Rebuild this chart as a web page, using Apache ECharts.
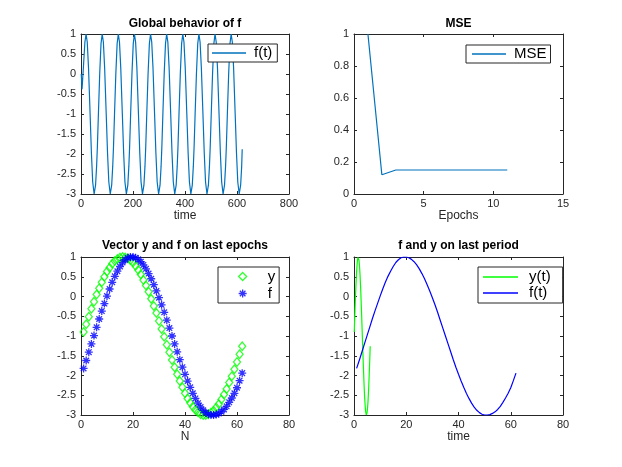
<!DOCTYPE html>
<html>
<head>
<meta charset="utf-8">
<title>f and y</title>
<script src="https://cdn.jsdelivr.net/npm/echarts@6/dist/echarts.min.js"></script>
<style>
  html, body { margin: 0; padding: 0; background: #fff; }
  #chart { width: 622px; height: 467px; }
</style>
</head>
<body>
<div id="chart"></div>
<script>
// f over every epoch (key points)
const globalTime = [
  1, 4, 10, 15, 19.5, 24, 29, 35, 40, 45, 50.5, 56, 60,
  63, 67, 72, 77, 81.5, 86, 91, 97, 102, 107, 112.5, 118, 122,
  125, 129, 134, 139, 143.5, 148, 153, 159, 164, 169, 174.5, 180, 184,
  187, 191, 196, 201, 205.5, 210, 215, 221, 226, 231, 236.5, 242, 246,
  249, 253, 258, 263, 267.5, 272, 277, 283, 288, 293, 298.5, 304, 308,
  311, 315, 320, 325, 329.5, 334, 339, 345, 350, 355, 360.5, 366, 370,
  373, 377, 382, 387, 391.5, 396, 401, 407, 412, 417, 422.5, 428, 432,
  435, 439, 444, 449, 453.5, 458, 463, 469, 474, 479, 484.5, 490, 494,
  497, 501, 506, 511, 515.5, 520, 525, 531, 536, 541, 546.5, 552, 556,
  559, 563, 568, 573, 577.5, 582, 587, 593, 598, 603, 608.5, 614, 618, 620
];
const globalF = [
  0.00, -0.38, 0.25, 0.80, 1.00, 0.80, 0.14, -1.00, -1.97, -2.70, -3.00, -2.78, -2.31,
  -1.82, -0.99, 0.01, 0.76, 1.00, 0.80, 0.14, -1.00, -1.97, -2.70, -3.00, -2.78, -2.31,
  -1.82, -0.99, 0.01, 0.76, 1.00, 0.80, 0.14, -1.00, -1.97, -2.70, -3.00, -2.78, -2.31,
  -1.82, -0.99, 0.01, 0.76, 1.00, 0.80, 0.14, -1.00, -1.97, -2.70, -3.00, -2.78, -2.31,
  -1.82, -0.99, 0.01, 0.76, 1.00, 0.80, 0.14, -1.00, -1.97, -2.70, -3.00, -2.78, -2.31,
  -1.82, -0.99, 0.01, 0.76, 1.00, 0.80, 0.14, -1.00, -1.97, -2.70, -3.00, -2.78, -2.31,
  -1.82, -0.99, 0.01, 0.76, 1.00, 0.80, 0.14, -1.00, -1.97, -2.70, -3.00, -2.78, -2.31,
  -1.82, -0.99, 0.01, 0.76, 1.00, 0.80, 0.14, -1.00, -1.97, -2.70, -3.00, -2.78, -2.31,
  -1.82, -0.99, 0.01, 0.76, 1.00, 0.80, 0.14, -1.00, -1.97, -2.70, -3.00, -2.78, -2.31,
  -1.82, -0.99, 0.01, 0.76, 1.00, 0.80, 0.14, -1.00, -1.97, -2.70, -3.00, -2.78, -2.31, -1.88
];

// MSE per epoch
const mseEpochs = [1, 2, 3, 4, 5, 6, 7, 8, 9, 10, 11];
const mseValues = [1.00, 0.12, 0.15, 0.15, 0.15, 0.15, 0.15, 0.15, 0.15, 0.15, 0.15];

// target y and output f on the last epoch (N = 1..62)
const yLast = [
  -0.90, -0.70, -0.51, -0.31, -0.13, 0.05, 0.21, 0.36, 0.50, 0.63,
  0.73, 0.83, 0.90, 0.95, 0.99, 1.00, 0.99, 0.97, 0.92, 0.86,
  0.77, 0.67, 0.56, 0.42, 0.28, 0.12, -0.06, -0.24, -0.42, -0.62,
  -0.82, -1.02, -1.22, -1.41, -1.61, -1.79, -1.97, -2.14, -2.30, -2.45,
  -2.58, -2.69, -2.79, -2.87, -2.93, -2.98, -3.00, -3.00, -2.98, -2.94,
  -2.89, -2.81, -2.72, -2.61, -2.48, -2.34, -2.18, -2.02, -1.84, -1.66,
  -1.46, -1.26
];
const fLast = [
  -1.82, -1.62, -1.41, -1.20, -0.99, -0.78, -0.57, -0.37, -0.18, 0.01,
  0.19, 0.36, 0.51, 0.64, 0.76, 0.86, 0.93, 0.98, 1.00, 1.00,
  0.98, 0.94, 0.88, 0.80, 0.70, 0.58, 0.45, 0.30, 0.14, -0.03,
  -0.21, -0.40, -0.60, -0.80, -1.00, -1.20, -1.40, -1.60, -1.79, -1.97,
  -2.14, -2.30, -2.45, -2.58, -2.70, -2.80, -2.88, -2.94, -2.98, -3.00,
  -3.00, -2.99, -2.96, -2.92, -2.86, -2.78, -2.68, -2.57, -2.45, -2.31,
  -2.13, -1.94
];

// sample index, and the same samples on the y(t) time scale
const sampleN = fLast.map((_, i) => i + 1);
const sampleT = sampleN.map((n) => n / 10);

const FONT = '"Liberation Sans", Arial, Helvetica, sans-serif';
const AXIS = '#262626';
const BLUE_M = '#0072bd';
const GREEN = '#00ff00';
const BLUE = '#0000ff';
const STAR = 'path://M0,5L10,5M5,0L5,10M1.5,1.5L8.5,8.5M1.5,8.5L8.5,1.5';

const grids = [
  { left: 81, top: 34, width: 208, height: 160 },
  { left: 354, top: 34, width: 209, height: 160 },
  { left: 81, top: 257, width: 208, height: 158 },
  { left: 354, top: 257, width: 209, height: 158 }
];
const titles = ['Global behavior of f', 'MSE', 'Vector y and f on last epochs', 'f and y on last period'];
const xNames = ['time', 'Epochs', 'N', 'time'];
const xRanges = [[0, 800, 200], [0, 15, 5], [0, 80, 20], [0, 80, 20]];
const yRanges = [[-3, 1, 0.5], [0, 1, 0.2], [-3, 1, 0.5], [-3, 1, 0.5]];

function fmt(v) {
  return String(Math.round(v * 100) / 100);
}

// main axis with labels, or a mirror axis giving the box and its inside ticks
function makeAxis(g, range, pos, mirror, name) {
  const ax = {
    type: 'value',
    gridIndex: g,
    position: pos,
    min: range[0],
    max: range[1],
    interval: range[2],
    axisLine: { show: true, onZero: false, lineStyle: { color: AXIS, width: 1 } },
    axisTick: { show: true, inside: true, length: 3, lineStyle: { color: AXIS, width: 1 } },
    splitLine: { show: false },
    axisLabel: {
      show: !mirror,
      color: AXIS,
      fontFamily: FONT,
      fontSize: 11,
      margin: pos === 'left' ? 5 : 4,
      formatter: fmt
    }
  };
  if (name) {
    ax.name = name;
    ax.nameLocation = 'middle';
    ax.nameGap = 16;
    ax.nameTextStyle = { color: AXIS, fontFamily: FONT, fontSize: 12 };
  }
  return ax;
}

const xAxis = [];
const yAxis = [];
grids.forEach((_, g) => {
  xAxis.push(makeAxis(g, xRanges[g], 'bottom', false, xNames[g]));
  xAxis.push(makeAxis(g, xRanges[g], 'top', true));
  yAxis.push(makeAxis(g, yRanges[g], 'left', false));
  yAxis.push(makeAxis(g, yRanges[g], 'right', true));
});

const title = titles.map((text, g) => ({
  text,
  left: grids[g].left + grids[g].width / 2,
  top: g < 2 ? 18 : 240,
  textAlign: 'center',
  padding: 0,
  textStyle: { color: '#000', fontFamily: FONT, fontSize: 12, fontWeight: 'bold' }
}));

const legendLabels = { fGlobal: 'f(t)', mse: 'MSE', yDots: 'y', fDots: 'f', yLine: 'y(t)', fLine: 'f(t)' };
function legendText(lineHeight, left) {
  return { color: '#000', fontFamily: FONT, fontSize: 15, lineHeight, padding: [0, 0, 0, left] };
}
function lineItem(name, color) {
  return { name, icon: 'rect', itemStyle: { color, borderWidth: 0 } };
}
function makeLegend(opts) {
  return Object.assign({
    orient: 'vertical',
    backgroundColor: '#fff',
    borderColor: AXIS,
    borderWidth: 1,
    borderRadius: 0,
    itemGap: 0,
    itemWidth: 34,
    itemHeight: 1.3,
    selectedMode: false,
    formatter: (name) => legendLabels[name],
    textStyle: legendText(16, 3)
  }, opts);
}

const legend = [
  makeLegend({ left: 208, top: 44, padding: [1, 5, 1, 4], data: [lineItem('fGlobal', BLUE_M)] }),
  makeLegend({ left: 466, top: 45, padding: [1, 4, 1, 6], data: [lineItem('mse', BLUE_M)] }),
  makeLegend({
    left: 218, top: 267, padding: [1, 4, 1, 20], itemWidth: 8, itemHeight: 8,
    textStyle: legendText(17, 16),
    data: [
      { name: 'yDots', icon: 'diamond', itemStyle: { color: 'rgba(0,0,0,0)', borderColor: GREEN, borderWidth: 1.3 } },
      { name: 'fDots', icon: STAR, itemStyle: { color: 'rgba(0,0,0,0)', borderColor: BLUE, borderWidth: 1.3 } }
    ]
  }),
  makeLegend({
    left: 478, top: 267, padding: [2, 12, 2, 5], itemWidth: 35,
    textStyle: legendText(16, 6),
    data: [lineItem('yLine', GREEN), lineItem('fLine', BLUE)]
  })
];

function lineSeries(name, g, xs, ys, color) {
  return {
    name,
    type: 'line',
    xAxisIndex: g * 2,
    yAxisIndex: g * 2,
    data: xs.map((x, i) => [x, ys[i]]),
    symbol: 'none',
    showSymbol: false,
    animation: false,
    lineStyle: { color, width: 1.2 },
    itemStyle: { color },
    clip: true
  };
}

const series = [
  lineSeries('fGlobal', 0, globalTime, globalF, BLUE_M),
  lineSeries('mse', 1, mseEpochs, mseValues, BLUE_M),
  {
    name: 'yDots',
    type: 'scatter',
    xAxisIndex: 4,
    yAxisIndex: 4,
    data: sampleN.map((n, i) => [n, yLast[i]]),
    symbol: 'diamond',
    symbolSize: [7, 8.5],
    animation: false,
    itemStyle: { color: 'rgba(0,0,0,0)', borderColor: GREEN, borderWidth: 1.3 }
  },
  {
    name: 'fDots',
    type: 'scatter',
    xAxisIndex: 4,
    yAxisIndex: 4,
    data: sampleN.map((n, i) => [n, fLast[i]]),
    symbol: STAR,
    symbolSize: 8,
    animation: false,
    itemStyle: { color: 'rgba(0,0,0,0)', borderColor: BLUE, borderWidth: 1.3 }
  },
  lineSeries('yLine', 3, sampleT, yLast, GREEN),
  lineSeries('fLine', 3, sampleN, fLast, BLUE)
];

const chart = echarts.init(document.getElementById('chart'), null, { renderer: 'canvas' });
chart.setOption({
  backgroundColor: '#fff',
  animation: false,
  title,
  legend,
  grid: grids.map((g) => Object.assign({ containLabel: false }, g)),
  xAxis,
  yAxis,
  series
});
</script>
</body>
</html>
